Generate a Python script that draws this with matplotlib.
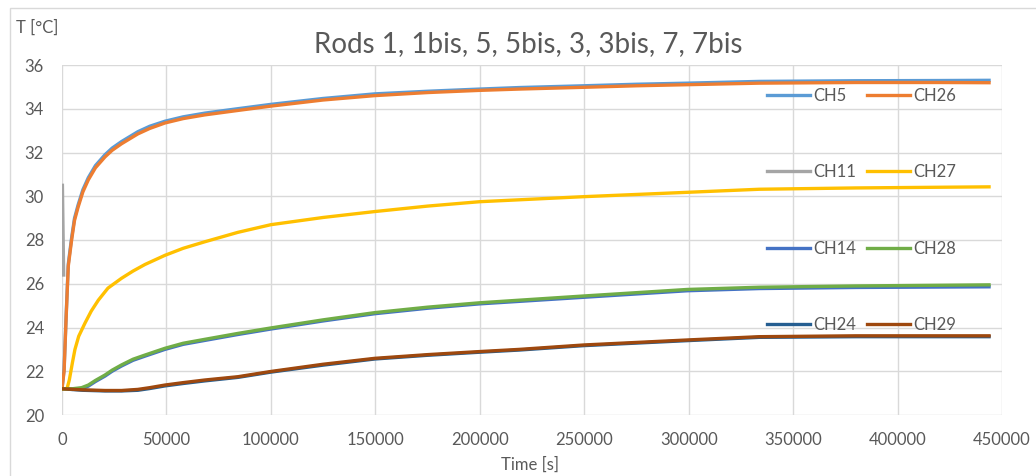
import matplotlib
matplotlib.use("Agg")
import matplotlib.pyplot as plt
from matplotlib.patches import Rectangle

plt.rcParams['font.family'] = ['Lato', 'DejaVu Sans']

# CH5 / CH26 (rods 1, 1bis)
t_fast = [0, 1000, 2000, 3000, 4600, 6000, 7700, 10000, 12600, 16000, 20600,
          24000, 28500, 36300, 42000, 49300, 58000, 68400, 84000, 100000,
          125000, 149700, 175000, 199900, 219000, 249600, 275000, 299400,
          333800, 380000, 420000, 443800]
ch26 = [21.2, 22.0, 24.5, 26.8, 28.0, 28.9, 29.5, 30.2, 30.75, 31.3, 31.8,
        32.1, 32.4, 32.85, 33.1, 33.35, 33.55, 33.72, 33.92, 34.12,
        34.4, 34.6, 34.74, 34.84, 34.9, 34.98, 35.05, 35.1,
        35.17, 35.2, 35.2, 35.19]
ch5 = [21.2, 22.1, 24.6, 26.9, 28.1, 29.0, 29.6, 30.3, 30.85, 31.4, 31.9,
       32.2, 32.5, 32.95, 33.2, 33.43, 33.63, 33.8, 34.0, 34.2,
       34.47, 34.68, 34.8, 34.9, 34.97, 35.05, 35.12, 35.17,
       35.25, 35.28, 35.29, 35.3]

# CH11 (short record near t=0)
t_ch11 = [200, 500, 800]
ch11 = [30.5, 28.4, 26.4]

# CH27 (rod 3bis)
t_mid = [0, 2400, 3500, 5000, 6200, 8000, 11000, 14000, 17400, 22000, 28500,
         34000, 39700, 49300, 58000, 68400, 84200, 100000, 125000, 149700,
         175000, 199900, 249600, 299400, 333800, 380000, 443800]
ch27 = [21.2, 21.2, 21.6, 22.4, 23.0, 23.6, 24.2, 24.75, 25.25, 25.8, 26.25,
        26.58, 26.88, 27.3, 27.62, 27.92, 28.35, 28.7, 29.03, 29.3,
        29.55, 29.75, 29.98, 30.18, 30.32, 30.38, 30.43]

# CH14 / CH28 (rods 7, 7bis)
t_slow = [0, 5000, 9400, 12600, 16000, 20600, 24000, 28500, 34000, 39700,
          49300, 58000, 68400, 84200, 100000, 125000, 149700, 175000, 199900,
          249600, 299400, 333800, 380000, 443800]
ch28 = [21.2, 21.2, 21.25, 21.37, 21.58, 21.83, 22.05, 22.29, 22.55, 22.74,
        23.05, 23.28, 23.46, 23.73, 23.98, 24.35, 24.68, 24.93, 25.13,
        25.44, 25.74, 25.84, 25.9, 25.95]
ch14 = [21.2, 21.17, 21.2, 21.32, 21.53, 21.78, 22.0, 22.24, 22.5, 22.69,
        23.0, 23.23, 23.41, 23.68, 23.93, 24.3, 24.63, 24.88, 25.08,
        25.38, 25.68, 25.78, 25.83, 25.86]

# CH24 / CH29 (rods 5, 5bis)
t_low = [0, 10000, 20600, 28500, 36300, 42000, 49300, 58000, 68400, 84200,
         100000, 125000, 149700, 175000, 199900, 219000, 249600, 299400,
         333800, 380000, 443800]
ch29 = [21.2, 21.15, 21.12, 21.12, 21.17, 21.25, 21.37, 21.48, 21.6, 21.75,
        21.99, 22.32, 22.59, 22.76, 22.9, 23.0, 23.2, 23.43, 23.58, 23.62, 23.62]
ch24 = [21.2, 21.13, 21.1, 21.1, 21.13, 21.21, 21.33, 21.44, 21.56, 21.72,
        21.96, 22.28, 22.56, 22.73, 22.87, 22.97, 23.17, 23.4, 23.55, 23.58, 23.58]

x_ticks = [0, 50000, 100000, 150000, 200000, 250000, 300000, 350000, 400000, 450000]
y_ticks = [20, 22, 24, 26, 28, 30, 32, 34, 36]

fig = plt.figure(figsize=(10.36, 4.76), dpi=100)
ax = fig.add_axes([62 / 1036, 1 - 415 / 476, 940 / 1036, 350 / 476])

lw = 2.4
l5, = ax.plot(t_fast, ch5, color='#5B9BD5', lw=lw, label='CH5')
l11, = ax.plot(t_ch11, ch11, color='#A5A5A5', lw=lw, label='CH11')
l14, = ax.plot(t_slow, ch14, color='#4472C4', lw=lw, label='CH14')
l24, = ax.plot(t_low, ch24, color='#255E91', lw=lw, label='CH24')
l26, = ax.plot(t_fast, ch26, color='#ED7D31', lw=lw, label='CH26')
l27, = ax.plot(t_mid, ch27, color='#FFC000', lw=lw, label='CH27')
l28, = ax.plot(t_slow, ch28, color='#70AD47', lw=lw, label='CH28')
l29, = ax.plot(t_low, ch29, color='#9E480E', lw=lw, label='CH29')

ax.set_xlim(0, 450000)
ax.set_ylim(20, 36)
ax.set_xticks(x_ticks)
ax.set_yticks(y_ticks)
ax.grid(True, color='#D9D9D9', lw=1)
ax.set_axisbelow(True)
for s in ax.spines.values():
    s.set_visible(False)
ax.tick_params(length=0, labelsize=12, labelcolor='#595959')
ax.tick_params(axis='y', pad=13)
ax.tick_params(axis='x', pad=12)

fig.text(528 / 1036, 1 - 44 / 476, 'Rods 1, 1bis, 5, 5bis, 3, 3bis, 7, 7bis',
         ha='center', va='center', fontsize=20, color='#595959')
fig.text(16 / 1036, 1 - 28 / 476, 'T [°C]', ha='left', va='center',
         fontsize=12, color='#595959')
fig.text(530 / 1036, 1 - 465 / 476, 'Time [s]', ha='center', va='center',
         fontsize=12, color='#595959')

leg = ax.legend(handles=[l5, l11, l14, l24, l26, l27, l28, l29], ncol=2,
                loc='upper left', bbox_to_anchor=(767 / 1036, 1 - 88 / 476),
                bbox_transform=fig.transFigure, frameon=False, fontsize=12,
                labelspacing=3.62, handlelength=2.6, handletextpad=0.2,
                columnspacing=0.6, borderpad=0, borderaxespad=0)
for txt in leg.get_texts():
    txt.set_color('#595959')

fig.patches.append(Rectangle((10 / 1036, -0.1), 1.2, 1 - 8 / 476 + 0.1,
                             transform=fig.transFigure, fill=False,
                             edgecolor='#D9D9D9', lw=1))

fig.savefig('out.png', dpi=100)
